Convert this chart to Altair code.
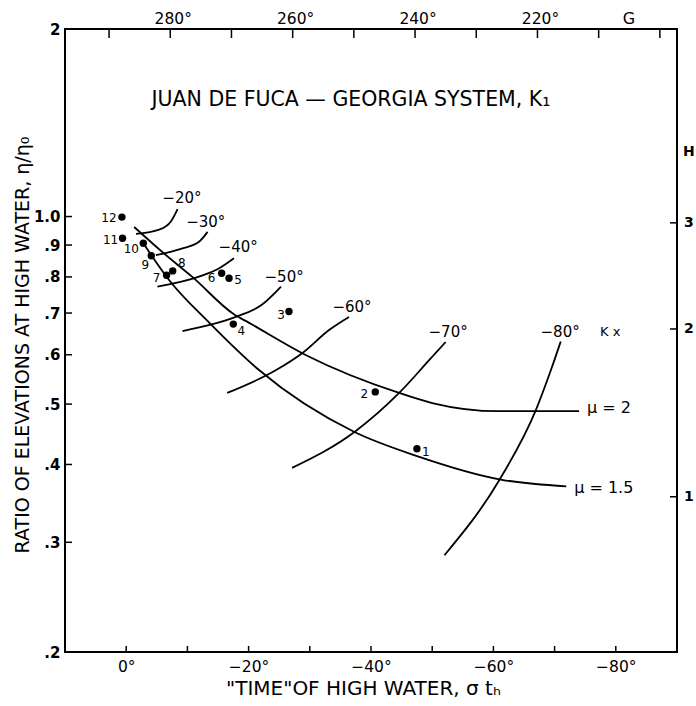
import altair as alt
import pandas as pd

FONT = "DejaVu Sans"

# ---- observed stations (phase in degrees, ratio eta/eta0) ----
pt_id = ["1", "2", "3", "4", "5", "6", "7", "8", "9", "10", "11", "12"]
pt_x = [-47.5, -40.7, -26.6, -17.5, -16.8, -15.6, -6.6, -7.6, -4.1, -2.8, 0.6, 0.7]
pt_r = [0.424, 0.523, 0.704, 0.672, 0.796, 0.811, 0.805, 0.818, 0.865, 0.906, 0.923, 0.998]
lbl_dx = [9, -11, -8, 8, 9, -10, -10, 9, -6, -12, -12, -13]
lbl_dy = [3, 2, 3, 7, 2, 5, 3, -8, 9, 6, 2, 1]

# ---- theoretical curves ----
mu2_x = [-1.3, -5.9, -10.8, -17.6, -20.1, -29.4, -44.6, -50.0, -60.9, -74.0]
mu2_r = [0.962, 0.877, 0.800, 0.697, 0.675, 0.599, 0.521, 0.502, 0.487, 0.487]
mu15_x = [-2.5, -7.0, -13.6, -21.7, -37.3, -47.4, -61.4, -71.9]
mu15_r = [0.915, 0.791, 0.675, 0.567, 0.451, 0.413, 0.378, 0.369]

k20_x = [-1.6, -5.4, -7.3, -8.4]
k20_r = [0.938, 0.953, 0.982, 1.028]
k30_x = [-4.85, -9.2, -11.9, -13.3]
k30_r = [0.867, 0.889, 0.911, 0.945]
k40_x = [-5.1, -11.9, -15.2, -17.6]
k40_r = [0.772, 0.801, 0.826, 0.857]
k50_x = [-9.2, -17.9, -22.1, -25.3]
k50_r = [0.655, 0.690, 0.721, 0.772]
k60_x = [-16.5, -24.5, -28.8, -33.2, -36.4]
k60_r = [0.521, 0.567, 0.604, 0.658, 0.690]
k70_x = [-27.1, -37.3, -44.6, -49.5, -52.2]
k70_r = [0.395, 0.451, 0.521, 0.588, 0.629]
k80_x = [-52.0, -61.0, -66.9, -69.4, -71.0]
k80_r = [0.286, 0.378, 0.488, 0.567, 0.630]

# ---- curve labels ----
clab_text = ["−20°", "−30°", "−40°", "−50°", "−60°", "−70°", "−80°"]
clab_x = [-9.1, -13.0, -18.3, -25.8, -36.9, -52.6, -70.9]
clab_r = [1.071, 0.981, 0.894, 0.801, 0.716, 0.653, 0.653]

# ---- axes ----
x_label_vals = [0, -20, -40, -60, -80]
x_tick_vals = [0, -10, -20, -30, -40, -50, -60, -70, -80]
y_label_vals = [0.2, 0.3, 0.4, 0.5, 0.6, 0.7, 0.8, 0.9, 1.0, 2.0]
y_tick_vals = [0.3, 0.4, 0.5, 0.6, 0.7, 0.8, 0.9, 1.0]
# top scale G (degrees), same spacing as the bottom scale
g_label_vals = [280, 260, 240, 220]
g_tick_vals = [290, 280, 270, 260, 250, 240, 230, 220, 210, 200]
G_OFFSET = 287.2
# right scale H: labels and the ratio at which each tick sits
h_labels = ["1", "2", "3"]
h_at_ratio = [0.355, 0.660, 0.977]

W, H = 612, 623

xs = alt.Scale(domain=[10, -90])
ys = alt.Scale(type="log", domain=[0.2, 2])

x_axis = alt.Axis(
    values=x_label_vals,
    labelExpr="datum.value == 0 ? '0°' : '−' + abs(datum.value) + '°'",
    ticks=False, domain=False, grid=False, orient="bottom",
    labelFont=FONT, labelFontSize=15.5, labelColor="black", labelPadding=7,
    title='"TIME"OF HIGH WATER, σ tₕ', titleFont=FONT, titleFontSize=20,
    titleFontWeight="normal", titleColor="black", titleX=298, titleY=36,
    titleBaseline="middle",
)
y_axis = alt.Axis(
    values=y_label_vals,
    labelExpr="datum.value >= 1 ? (datum.value == 1 ? '1.0' : '2') : '.' + round(datum.value * 10)",
    ticks=False, domain=False, grid=False, orient="left",
    labelFont=FONT, labelFontSize=15, labelFontWeight="bold", labelColor="black",
    labelPadding=5,
    title="RATIO OF ELEVATIONS AT HIGH WATER, η/η₀", titleFont=FONT,
    titleFontSize=19, titleFontWeight="normal", titleColor="black",
    titleX=-43, titleY=H / 2 + 4, titleBaseline="middle", titleAlign="center",
    titleAngle=-90,
)
X = lambda f: alt.X(f, scale=xs, axis=x_axis)
Y = lambda f: alt.Y(f, scale=ys, axis=y_axis)

curves = []
for name, cx, cr in [("mu2", mu2_x, mu2_r), ("mu15", mu15_x, mu15_r),
                     ("k20", k20_x, k20_r), ("k30", k30_x, k30_r),
                     ("k40", k40_x, k40_r), ("k50", k50_x, k50_r),
                     ("k60", k60_x, k60_r), ("k70", k70_x, k70_r),
                     ("k80", k80_x, k80_r)]:
    for i, (a, b) in enumerate(zip(cx, cr)):
        curves.append({"curve": name, "x": a, "r": b, "o": i})
curves_df = pd.DataFrame(curves)

curve_layer = alt.Chart(curves_df).mark_line(
    color="black", strokeWidth=1.8, interpolate="monotone"
).encode(x=X("x:Q"), y=Y("r:Q"), detail="curve:N", order="o:Q")

pts_df = pd.DataFrame({"id": pt_id, "x": pt_x, "r": pt_r})
pts_layer = alt.Chart(pts_df).mark_circle(size=55, color="black", opacity=1).encode(
    x=X("x:Q"), y=Y("r:Q")
)

pt_label_layers = []
for i in range(len(pt_id)):
    d = pd.DataFrame({"id": [pt_id[i]], "x": [pt_x[i]], "r": [pt_r[i]]})
    pt_label_layers.append(
        alt.Chart(d).mark_text(
            font=FONT, fontSize=12, color="black", dx=lbl_dx[i], dy=lbl_dy[i]
        ).encode(x=X("x:Q"), y=Y("r:Q"), text="id:N")
    )

clab_df = pd.DataFrame({"t": clab_text, "x": clab_x, "r": clab_r})
clab_layer = alt.Chart(clab_df).mark_text(font=FONT, fontSize=15, color="black").encode(
    x=X("x:Q"), y=Y("r:Q"), text="t:N"
)

kx_df = pd.DataFrame({"t": ["K x"], "x": [-79.1], "r": [0.653]})
kx_layer = alt.Chart(kx_df).mark_text(font=FONT, fontSize=13, color="black").encode(
    x=X("x:Q"), y=Y("r:Q"), text="t:N"
)

mu_df = pd.DataFrame({"t": ["μ = 2", "μ = 1.5"], "x": [-75.3, -73.2], "r": [0.493, 0.367]})
mu_layer = alt.Chart(mu_df).mark_text(font=FONT, fontSize=16, color="black", align="left").encode(
    x=X("x:Q"), y=Y("r:Q"), text="t:N"
)

title_df = pd.DataFrame({"t": ["JUAN DE FUCA — GEORGIA SYSTEM, K₁"]})
title_layer = alt.Chart(title_df).mark_text(font=FONT, fontSize=20.5, color="black").encode(
    x=alt.value(286), y=alt.value(71), text="t:N"
)

# inward ticks
xt_df = pd.DataFrame({"v": x_tick_vals})
xt_layer = alt.Chart(xt_df).mark_rule(color="black", strokeWidth=1.5).encode(
    x=X("v:Q"), y=alt.value(H), y2=alt.value(H - 6)
)
yt_df = pd.DataFrame({"v": y_tick_vals})
yt_layer = alt.Chart(yt_df).mark_rule(color="black", strokeWidth=1.5).encode(
    y=Y("v:Q"), x=alt.value(0), x2=alt.value(7)
)

# top G scale, placed through the bottom scale
gt_df = pd.DataFrame({"g": g_tick_vals})
gt_df["x"] = gt_df["g"] - G_OFFSET
gt_layer = alt.Chart(gt_df).mark_rule(color="black", strokeWidth=1.5).encode(
    x=X("x:Q"), y=alt.value(0), y2=alt.value(9)
)
gl_df = pd.DataFrame({"g": g_label_vals})
gl_df["x"] = gl_df["g"] - G_OFFSET
gl_df["t"] = [f"{v}°" for v in g_label_vals]
gl_layer = alt.Chart(gl_df).mark_text(
    font=FONT, fontSize=15.5, color="black", baseline="middle", dx=3
).encode(x=X("x:Q"), y=alt.value(-10), text="t:N")
g_title = alt.Chart(pd.DataFrame({"t": ["G"]})).mark_text(
    font=FONT, fontSize=16, color="black", baseline="middle"
).encode(x=alt.value(564), y=alt.value(-10), text="t:N")

# right H scale
h_df = pd.DataFrame({"t": h_labels, "r": h_at_ratio})
ht_layer = alt.Chart(h_df).mark_rule(color="black", strokeWidth=1.5).encode(
    y=Y("r:Q"), x=alt.value(W), x2=alt.value(W - 7)
)
hl_layer = alt.Chart(h_df).mark_text(
    font=FONT, fontSize=14, fontWeight="bold", color="black", align="left", baseline="middle"
).encode(y=Y("r:Q"), x=alt.value(W + 7), text="t:N")
h_title = alt.Chart(pd.DataFrame({"t": ["H"]})).mark_text(
    font=FONT, fontSize=14, fontWeight="bold", color="black", align="left", baseline="middle"
).encode(x=alt.value(W + 6), y=alt.value(123), text="t:N")

chart = alt.layer(
    curve_layer, pts_layer, *pt_label_layers, clab_layer, kx_layer, mu_layer,
    title_layer, xt_layer, yt_layer, gt_layer, gl_layer, g_title,
    ht_layer, hl_layer, h_title,
).properties(
    width=W, height=H,
    autosize=alt.AutoSizeParams(type="none"),
    padding={"left": 65, "top": 29, "right": 19, "bottom": 54},
    background="white",
).configure_view(stroke="black", strokeWidth=2)

chart.save("out.html", embed_options={"renderer": "svg", "actions": False})
